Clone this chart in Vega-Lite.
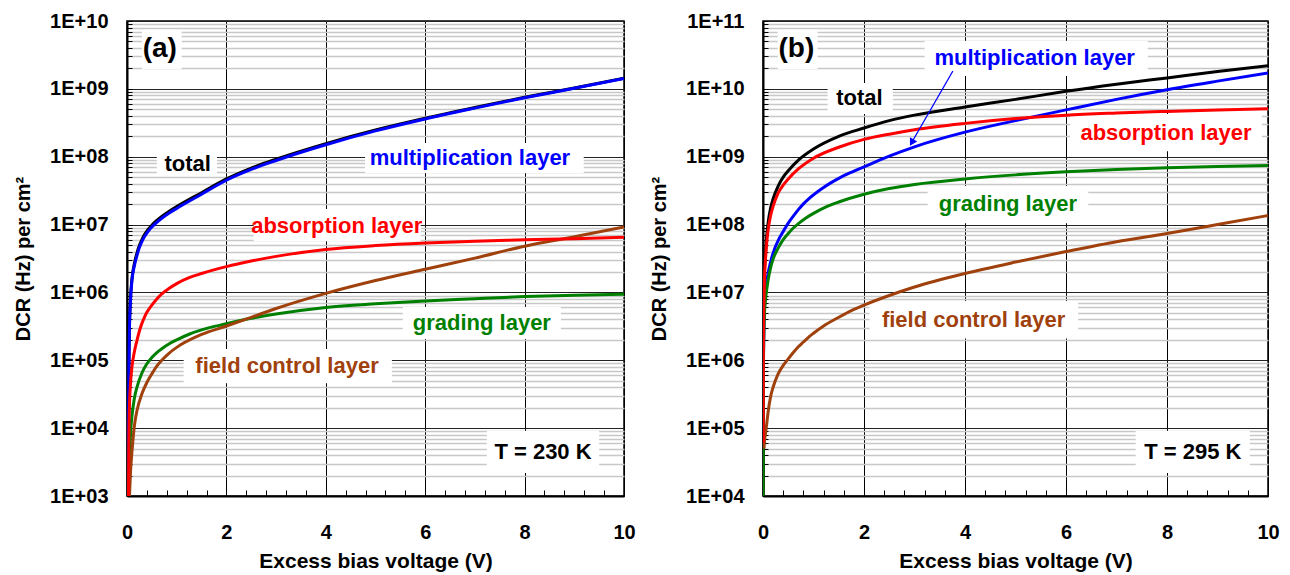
{
  "$schema": "https://vega.github.io/schema/vega-lite/v6.json",
  "padding": {"left": 12, "top": 10, "right": 5, "bottom": 0},
  "config": {
    "font": "Liberation Sans",
    "view": {"stroke": "#000000", "strokeWidth": 1.5},
    "background": "white"
  },
  "spacing": 12,
  "datasets": {
    "a": [
      {"series":"total","V":0.027,"DCR":1000},{"series":"total","V":0.03,"DCR":1.2e4},{"series":"total","V":0.04,"DCR":1.3e5},{"series":"total","V":0.05,"DCR":3.4e5},{"series":"total","V":0.07,"DCR":8.2e5},{"series":"total","V":0.1,"DCR":1.6e6},{"series":"total","V":0.15,"DCR":2.7e6},{"series":"total","V":0.2,"DCR":3.8e6},{"series":"total","V":0.25,"DCR":4.95e6},{"series":"total","V":0.3,"DCR":6.0e6},{"series":"total","V":0.35,"DCR":7.05e6},{"series":"total","V":0.4,"DCR":8.0e6},{"series":"total","V":0.45,"DCR":8.9e6},{"series":"total","V":0.5,"DCR":9.8e6},{"series":"total","V":0.6,"DCR":1.15e7},{"series":"total","V":0.7,"DCR":1.32e7},{"series":"total","V":0.85,"DCR":1.57e7},{"series":"total","V":1,"DCR":1.84e7},{"series":"total","V":1.5,"DCR":2.95e7},{"series":"total","V":2,"DCR":4.7e7},{"series":"total","V":2.5,"DCR":6.8e7},{"series":"total","V":3,"DCR":9.2e7},{"series":"total","V":4,"DCR":1.56e8},{"series":"total","V":5,"DCR":2.47e8},{"series":"total","V":6,"DCR":3.68e8},{"series":"total","V":7,"DCR":5.3e8},{"series":"total","V":8,"DCR":7.5e8},{"series":"total","V":9,"DCR":1.03e9},{"series":"total","V":10,"DCR":1.44e9},
      {"series":"mult","V":0.028,"DCR":1000},{"series":"mult","V":0.03,"DCR":1e4},{"series":"mult","V":0.04,"DCR":1e5},{"series":"mult","V":0.05,"DCR":3e5},{"series":"mult","V":0.07,"DCR":7.5e5},{"series":"mult","V":0.1,"DCR":1.5e6},{"series":"mult","V":0.15,"DCR":2.5e6},{"series":"mult","V":0.2,"DCR":3.5e6},{"series":"mult","V":0.25,"DCR":4.6e6},{"series":"mult","V":0.3,"DCR":5.6e6},{"series":"mult","V":0.35,"DCR":6.6e6},{"series":"mult","V":0.4,"DCR":7.5e6},{"series":"mult","V":0.45,"DCR":8.35e6},{"series":"mult","V":0.5,"DCR":9.2e6},{"series":"mult","V":0.6,"DCR":1.08e7},{"series":"mult","V":0.7,"DCR":1.24e7},{"series":"mult","V":0.85,"DCR":1.48e7},{"series":"mult","V":1,"DCR":1.73e7},{"series":"mult","V":1.5,"DCR":2.8e7},{"series":"mult","V":2,"DCR":4.5e7},{"series":"mult","V":2.5,"DCR":6.5e7},{"series":"mult","V":3,"DCR":8.8e7},{"series":"mult","V":4,"DCR":1.5e8},{"series":"mult","V":5,"DCR":2.4e8},{"series":"mult","V":6,"DCR":3.6e8},{"series":"mult","V":7,"DCR":5.2e8},{"series":"mult","V":8,"DCR":7.4e8},{"series":"mult","V":9,"DCR":1.02e9},{"series":"mult","V":10,"DCR":1.42e9},
      {"series":"grad","V":0.04,"DCR":1000},{"series":"grad","V":0.05,"DCR":3000},{"series":"grad","V":0.07,"DCR":8000},{"series":"grad","V":0.1,"DCR":1.5e4},{"series":"grad","V":0.15,"DCR":2.8e4},{"series":"grad","V":0.2,"DCR":4.0e4},{"series":"grad","V":0.3,"DCR":6.5e4},{"series":"grad","V":0.4,"DCR":8.9e4},{"series":"grad","V":0.5,"DCR":1.1e5},{"series":"grad","V":0.6,"DCR":1.3e5},{"series":"grad","V":0.7,"DCR":1.48e5},{"series":"grad","V":0.85,"DCR":1.75e5},{"series":"grad","V":1,"DCR":2.0e5},{"series":"grad","V":1.25,"DCR":2.42e5},{"series":"grad","V":1.5,"DCR":2.8e5},{"series":"grad","V":2,"DCR":3.45e5},{"series":"grad","V":2.5,"DCR":4.15e5},{"series":"grad","V":3,"DCR":4.8e5},{"series":"grad","V":4,"DCR":6.0e5},{"series":"grad","V":5,"DCR":6.8e5},{"series":"grad","V":6,"DCR":7.5e5},{"series":"grad","V":7,"DCR":8.1e5},{"series":"grad","V":8,"DCR":8.7e5},{"series":"grad","V":9,"DCR":9.1e5},{"series":"grad","V":10,"DCR":9.4e5},
      {"series":"field","V":0.05,"DCR":1000},{"series":"field","V":0.07,"DCR":2200},{"series":"field","V":0.1,"DCR":4500},{"series":"field","V":0.15,"DCR":1.1e4},{"series":"field","V":0.2,"DCR":1.8e4},{"series":"field","V":0.3,"DCR":3.2e4},{"series":"field","V":0.4,"DCR":4.7e4},{"series":"field","V":0.5,"DCR":6.3e4},{"series":"field","V":0.6,"DCR":8.2e4},{"series":"field","V":0.7,"DCR":1.0e5},{"series":"field","V":0.85,"DCR":1.28e5},{"series":"field","V":1,"DCR":1.55e5},{"series":"field","V":1.5,"DCR":2.4e5},{"series":"field","V":2,"DCR":3.2e5},{"series":"field","V":2.5,"DCR":4.3e5},{"series":"field","V":3,"DCR":5.8e5},{"series":"field","V":4,"DCR":9.7e5},{"series":"field","V":5,"DCR":1.5e6},{"series":"field","V":6,"DCR":2.2e6},{"series":"field","V":7,"DCR":3.2e6},{"series":"field","V":8,"DCR":4.8e6},{"series":"field","V":9,"DCR":6.6e6},{"series":"field","V":10,"DCR":9.2e6},
      {"series":"abs","V":0.03,"DCR":1000},{"series":"abs","V":0.035,"DCR":4600},{"series":"abs","V":0.04,"DCR":1e4},{"series":"abs","V":0.05,"DCR":2.2e4},{"series":"abs","V":0.07,"DCR":4.5e4},{"series":"abs","V":0.1,"DCR":8e4},{"series":"abs","V":0.15,"DCR":1.35e5},{"series":"abs","V":0.2,"DCR":1.95e5},{"series":"abs","V":0.25,"DCR":2.7e5},{"series":"abs","V":0.3,"DCR":3.5e5},{"series":"abs","V":0.35,"DCR":4.3e5},{"series":"abs","V":0.4,"DCR":5.1e5},{"series":"abs","V":0.45,"DCR":5.8e5},{"series":"abs","V":0.5,"DCR":6.5e5},{"series":"abs","V":0.6,"DCR":8.0e5},{"series":"abs","V":0.7,"DCR":9.5e5},{"series":"abs","V":0.85,"DCR":1.15e6},{"series":"abs","V":1,"DCR":1.35e6},{"series":"abs","V":1.25,"DCR":1.65e6},{"series":"abs","V":1.5,"DCR":1.9e6},{"series":"abs","V":2,"DCR":2.4e6},{"series":"abs","V":2.5,"DCR":2.9e6},{"series":"abs","V":3,"DCR":3.4e6},{"series":"abs","V":4,"DCR":4.3e6},{"series":"abs","V":5,"DCR":4.9e6},{"series":"abs","V":6,"DCR":5.35e6},{"series":"abs","V":7,"DCR":5.7e6},{"series":"abs","V":8,"DCR":5.95e6},{"series":"abs","V":9,"DCR":6.2e6},{"series":"abs","V":10,"DCR":6.5e6}
    ],
    "b": [
      {"series":"total","V":0.004,"DCR":1e4},{"series":"total","V":0.01,"DCR":5e6},{"series":"total","V":0.02,"DCR":1.4e7},{"series":"total","V":0.03,"DCR":2.2e7},{"series":"total","V":0.05,"DCR":3.8e7},{"series":"total","V":0.07,"DCR":6.3e7},{"series":"total","V":0.1,"DCR":1.05e8},{"series":"total","V":0.15,"DCR":1.75e8},{"series":"total","V":0.2,"DCR":2.4e8},{"series":"total","V":0.3,"DCR":3.7e8},{"series":"total","V":0.4,"DCR":5.0e8},{"series":"total","V":0.5,"DCR":6.2e8},{"series":"total","V":0.7,"DCR":8.9e8},{"series":"total","V":1,"DCR":1.3e9},{"series":"total","V":1.5,"DCR":2.0e9},{"series":"total","V":2,"DCR":2.65e9},{"series":"total","V":2.5,"DCR":3.4e9},{"series":"total","V":3,"DCR":4.1e9},{"series":"total","V":4,"DCR":5.4e9},{"series":"total","V":5,"DCR":7.0e9},{"series":"total","V":6,"DCR":9.2e9},{"series":"total","V":7,"DCR":1.17e10},{"series":"total","V":8,"DCR":1.45e10},{"series":"total","V":9,"DCR":1.8e10},{"series":"total","V":10,"DCR":2.2e10},
      {"series":"mult","V":0.008,"DCR":1e6},{"series":"mult","V":0.02,"DCR":3.5e6},{"series":"mult","V":0.03,"DCR":6e6},{"series":"mult","V":0.05,"DCR":1e7},{"series":"mult","V":0.07,"DCR":1.35e7},{"series":"mult","V":0.1,"DCR":1.9e7},{"series":"mult","V":0.15,"DCR":2.8e7},{"series":"mult","V":0.2,"DCR":3.8e7},{"series":"mult","V":0.3,"DCR":5.8e7},{"series":"mult","V":0.4,"DCR":7.9e7},{"series":"mult","V":0.5,"DCR":1.05e8},{"series":"mult","V":0.6,"DCR":1.33e8},{"series":"mult","V":0.7,"DCR":1.66e8},{"series":"mult","V":0.8,"DCR":2.02e8},{"series":"mult","V":0.9,"DCR":2.38e8},{"series":"mult","V":1,"DCR":2.74e8},{"series":"mult","V":1.1,"DCR":3.12e8},{"series":"mult","V":1.2,"DCR":3.52e8},{"series":"mult","V":1.35,"DCR":4.15e8},{"series":"mult","V":1.5,"DCR":4.8e8},{"series":"mult","V":1.75,"DCR":5.9e8},{"series":"mult","V":2,"DCR":7.1e8},{"series":"mult","V":2.5,"DCR":1.02e9},{"series":"mult","V":3,"DCR":1.4e9},{"series":"mult","V":4,"DCR":2.3e9},{"series":"mult","V":5,"DCR":3.4e9},{"series":"mult","V":6,"DCR":4.9e9},{"series":"mult","V":7,"DCR":7.0e9},{"series":"mult","V":8,"DCR":9.7e9},{"series":"mult","V":9,"DCR":1.3e10},{"series":"mult","V":10,"DCR":1.72e10},
      {"series":"grad","V":0.002,"DCR":1e4},{"series":"grad","V":0.005,"DCR":1e5},{"series":"grad","V":0.01,"DCR":1e6},{"series":"grad","V":0.02,"DCR":3e6},{"series":"grad","V":0.03,"DCR":5e6},{"series":"grad","V":0.05,"DCR":8e6},{"series":"grad","V":0.07,"DCR":1.05e7},{"series":"grad","V":0.1,"DCR":1.5e7},{"series":"grad","V":0.15,"DCR":2.3e7},{"series":"grad","V":0.2,"DCR":3.1e7},{"series":"grad","V":0.3,"DCR":4.5e7},{"series":"grad","V":0.4,"DCR":6e7},{"series":"grad","V":0.5,"DCR":7.4e7},{"series":"grad","V":0.6,"DCR":8.9e7},{"series":"grad","V":0.7,"DCR":1.03e8},{"series":"grad","V":0.85,"DCR":1.25e8},{"series":"grad","V":1,"DCR":1.46e8},{"series":"grad","V":1.25,"DCR":1.82e8},{"series":"grad","V":1.5,"DCR":2.15e8},{"series":"grad","V":2,"DCR":2.8e8},{"series":"grad","V":2.5,"DCR":3.4e8},{"series":"grad","V":3,"DCR":3.9e8},{"series":"grad","V":4,"DCR":4.7e8},{"series":"grad","V":5,"DCR":5.4e8},{"series":"grad","V":6,"DCR":6.0e8},{"series":"grad","V":7,"DCR":6.5e8},{"series":"grad","V":8,"DCR":6.9e8},{"series":"grad","V":9,"DCR":7.2e8},{"series":"grad","V":10,"DCR":7.4e8},
      {"series":"field","V":0.02,"DCR":5e4},{"series":"field","V":0.03,"DCR":6.5e4},{"series":"field","V":0.05,"DCR":8.5e4},{"series":"field","V":0.07,"DCR":1.1e5},{"series":"field","V":0.1,"DCR":1.7e5},{"series":"field","V":0.15,"DCR":2.9e5},{"series":"field","V":0.2,"DCR":4e5},{"series":"field","V":0.3,"DCR":6.3e5},{"series":"field","V":0.4,"DCR":8.4e5},{"series":"field","V":0.5,"DCR":1.05e6},{"series":"field","V":0.6,"DCR":1.3e6},{"series":"field","V":0.7,"DCR":1.58e6},{"series":"field","V":0.8,"DCR":1.86e6},{"series":"field","V":0.9,"DCR":2.18e6},{"series":"field","V":1,"DCR":2.5e6},{"series":"field","V":1.2,"DCR":3.2e6},{"series":"field","V":1.5,"DCR":4.3e6},{"series":"field","V":1.75,"DCR":5.4e6},{"series":"field","V":2,"DCR":6.5e6},{"series":"field","V":2.5,"DCR":9e6},{"series":"field","V":3,"DCR":1.2e7},{"series":"field","V":4,"DCR":1.9e7},{"series":"field","V":5,"DCR":2.8e7},{"series":"field","V":6,"DCR":4.0e7},{"series":"field","V":7,"DCR":5.6e7},{"series":"field","V":8,"DCR":7.4e7},{"series":"field","V":9,"DCR":1.0e8},{"series":"field","V":10,"DCR":1.36e8},
      {"series":"abs","V":0.005,"DCR":6e4},{"series":"abs","V":0.007,"DCR":1e6},{"series":"abs","V":0.01,"DCR":2.5e6},{"series":"abs","V":0.02,"DCR":8e6},{"series":"abs","V":0.03,"DCR":1.6e7},{"series":"abs","V":0.05,"DCR":3.1e7},{"series":"abs","V":0.07,"DCR":5e7},{"series":"abs","V":0.1,"DCR":8.2e7},{"series":"abs","V":0.15,"DCR":1.35e8},{"series":"abs","V":0.2,"DCR":1.85e8},{"series":"abs","V":0.3,"DCR":2.9e8},{"series":"abs","V":0.4,"DCR":3.8e8},{"series":"abs","V":0.5,"DCR":4.7e8},{"series":"abs","V":0.7,"DCR":6.6e8},{"series":"abs","V":1,"DCR":9.5e8},{"series":"abs","V":1.5,"DCR":1.38e9},{"series":"abs","V":2,"DCR":1.8e9},{"series":"abs","V":2.5,"DCR":2.15e9},{"series":"abs","V":3,"DCR":2.5e9},{"series":"abs","V":4,"DCR":3.1e9},{"series":"abs","V":5,"DCR":3.65e9},{"series":"abs","V":6,"DCR":4.1e9},{"series":"abs","V":7,"DCR":4.4e9},{"series":"abs","V":8,"DCR":4.65e9},{"series":"abs","V":9,"DCR":4.9e9},{"series":"abs","V":10,"DCR":5.1e9}
    ],
    "labels_a": [
      {"text":"(a)","kind":"tag","series":"total","V":0.66,"DCR":3.9e9,"x1":0.30,"x2":1.10,"y1":7.4e9,"y2":1.96e9},
      {"text":"total","kind":"label","series":"total","V":1.22,"DCR":7.8e7,"x1":0.60,"x2":1.81,"y1":1.135e8,"y2":5.2e7},
      {"text":"multiplication layer","kind":"label","series":"mult","V":6.90,"DCR":9.56e7,"x1":4.79,"x2":9.19,"y1":1.59e8,"y2":5.75e7},
      {"text":"absorption layer","kind":"label","series":"abs","V":4.22,"DCR":9.5e6,"x1":2.55,"x2":5.91,"y1":1.70e7,"y2":5.7e6},
      {"text":"grading layer","kind":"label","series":"grad","V":7.14,"DCR":3.55e5,"x1":5.55,"x2":8.73,"y1":6.1e5,"y2":2.06e5},
      {"text":"field control layer","kind":"label","series":"field","V":3.22,"DCR":8.2e4,"x1":1.14,"x2":5.33,"y1":1.47e5,"y2":4.6e4},
      {"text":"T = 230 K","kind":"label","series":"total","V":8.37,"DCR":4.45e3,"x1":7.24,"x2":9.5,"y1":9.1e3,"y2":2.18e3}
    ],
    "labels_b": [
      {"text":"(b)","kind":"tag","series":"total","V":0.66,"DCR":3.9e10,"x1":0.29,"x2":1.08,"y1":7.4e10,"y2":1.96e10},
      {"text":"total","kind":"label","series":"total","V":1.91,"DCR":7.3e9,"x1":1.28,"x2":2.57,"y1":1.22e10,"y2":4.26e9},
      {"text":"multiplication layer","kind":"label","series":"mult","V":5.38,"DCR":2.85e10,"x1":3.2,"x2":7.62,"y1":5.07e10,"y2":1.55e10},
      {"text":"absorption layer","kind":"label","series":"abs","V":7.98,"DCR":2.24e9,"x1":6.08,"x2":9.88,"y1":4.26e9,"y2":1.2e9},
      {"text":"grading layer","kind":"label","series":"grad","V":4.85,"DCR":2.0e8,"x1":3.26,"x2":6.44,"y1":3.7e8,"y2":1.05e8},
      {"text":"field control layer","kind":"label","series":"field","V":4.17,"DCR":3.93e6,"x1":2.11,"x2":6.24,"y1":7.5e6,"y2":2.1e6},
      {"text":"T = 295 K","kind":"label","series":"total","V":8.51,"DCR":4.45e4,"x1":7.38,"x2":9.64,"y1":9.1e4,"y2":2.18e4}
    ],
    "arrow_b": [
      {"V":3.76,"DCR":1.83e10,"V2":2.93,"DCR2":1.55e9}
    ],
    "head_b": [
      {"V":2.946,"DCR":1.62e9}
    ]
  },
  "hconcat": [
    {
      "width": 497,
      "height": 475,
      "layer": [
        {
          "data": {"name": "labels_a"},
          "mark": {"type": "rect", "color": "white"},
          "encoding": {
            "x": {"field": "x1", "type": "quantitative"},
            "x2": {"field": "x2"},
            "y": {"field": "y1", "type": "quantitative"},
            "y2": {"field": "y2"}
          }
        },
        {
          "data": {"name": "a"},
          "mark": {"type": "line", "strokeWidth": 3, "clip": true, "interpolate": "monotone"},
          "encoding": {
            "x": {
              "field": "V", "type": "quantitative",
              "scale": {"domain": [0, 10], "nice": false, "zero": false},
              "axis": {
                "title": "Excess bias voltage (V)",
                "titleFont": "Liberation Sans", "titleFontSize": 21, "titleFontWeight": "bold", "titleColor": "#000000", "titlePadding": 8,
                "values": [0,0.4,0.8,1.2,1.6,2,2.4,2.8,3.2,3.6,4,4.4,4.8,5.2,5.6,6,6.4,6.8,7.2,7.6,8,8.4,8.8,9.2,9.6,10],
                "tickCount": 200,
                "labelExpr": "datum.value % 2 === 0 ? '' + datum.value : ''",
                "labelFont": "Liberation Sans", "labelFontSize": 20, "labelFontWeight": "bold", "labelColor": "#000000",
                "labelPadding": 32, "labelFlush": false, "labelOverlap": false, "labelBound": false,
                "tickSize": -6, "tickColor": "#000000", "tickWidth": 1,
                "domainColor": "#000000", "domainWidth": 2,
                "grid": true, "gridColor": "#000000", "gridWidth": 1,
                "gridOpacity": {"condition": {"test": "datum.value % 2 === 0", "value": 1}, "value": 0}
              }
            },
            "y": {
              "field": "DCR", "type": "quantitative",
              "scale": {"type": "log", "domain": [1000, 1e10], "nice": false},
              "axis": {
                "title": "DCR (Hz) per cm²",
                "titleFont": "Liberation Sans", "titleFontSize": 20, "titleFontWeight": "bold", "titleColor": "#000000", "titlePadding": 16,
                "values": [1e3,2e3,3e3,4e3,5e3,6e3,7e3,8e3,9e3,1e4,2e4,3e4,4e4,5e4,6e4,7e4,8e4,9e4,1e5,2e5,3e5,4e5,5e5,6e5,7e5,8e5,9e5,1e6,2e6,3e6,4e6,5e6,6e6,7e6,8e6,9e6,1e7,2e7,3e7,4e7,5e7,6e7,7e7,8e7,9e7,1e8,2e8,3e8,4e8,5e8,6e8,7e8,8e8,9e8,1e9,2e9,3e9,4e9,5e9,6e9,7e9,8e9,9e9,1e10],
                "tickCount": 200,
                "labelExpr": "abs(log(datum.value)/LN10 - round(log(datum.value)/LN10)) < 0.001 ? '1E+' + (round(log(datum.value)/LN10) < 10 ? '0' : '') + round(log(datum.value)/LN10) : ''",
                "labelFont": "Liberation Sans", "labelFontSize": 20, "labelFontWeight": "bold", "labelColor": "#000000",
                "labelPadding": 24, "labelFlush": false, "labelOverlap": false, "labelBound": false,
                "tickSize": -5, "tickColor": "#000000", "tickWidth": 1,
                "domainColor": "#000000", "domainWidth": 2,
                "grid": true,
                "gridColor": {"condition": {"test": "abs(log(datum.value)/LN10 - round(log(datum.value)/LN10)) < 0.001", "value": "#222222"}, "value": "#c8c8c8"},
                "gridWidth": {"condition": {"test": "abs(log(datum.value)/LN10 - round(log(datum.value)/LN10)) < 0.001", "value": 1}, "value": 1.5}
              }
            },
            "color": {
              "field": "series", "type": "nominal",
              "scale": {"domain": ["total","mult","abs","grad","field"], "range": ["#000000","#0000ff","#ff0000","#008000","#a0410d"]},
              "legend": null
            }
          }
        },
        {
          "data": {"name": "labels_a"},
          "mark": {"type": "text", "font": "Liberation Sans", "fontWeight": "bold", "align": "center", "baseline": "middle"},
          "encoding": {
            "x": {"field": "V", "type": "quantitative"},
            "y": {"field": "DCR", "type": "quantitative"},
            "text": {"field": "text"},
            "color": {"field": "series", "type": "nominal", "legend": null},
            "size": {"condition": {"test": "datum.kind === 'tag'", "value": 28}, "value": 22}
          }
        }
      ]
    },
    {
      "width": 505,
      "height": 475,
      "layer": [
        {
          "data": {"name": "labels_b"},
          "mark": {"type": "rect", "color": "white"},
          "encoding": {
            "x": {"field": "x1", "type": "quantitative"},
            "x2": {"field": "x2"},
            "y": {"field": "y1", "type": "quantitative"},
            "y2": {"field": "y2"}
          }
        },
        {
          "data": {"name": "b"},
          "mark": {"type": "line", "strokeWidth": 3, "clip": true, "interpolate": "monotone"},
          "encoding": {
            "x": {
              "field": "V", "type": "quantitative",
              "scale": {"domain": [0, 10], "nice": false, "zero": false},
              "axis": {
                "title": "Excess bias voltage (V)",
                "titleFont": "Liberation Sans", "titleFontSize": 21, "titleFontWeight": "bold", "titleColor": "#000000", "titlePadding": 8,
                "values": [0,0.4,0.8,1.2,1.6,2,2.4,2.8,3.2,3.6,4,4.4,4.8,5.2,5.6,6,6.4,6.8,7.2,7.6,8,8.4,8.8,9.2,9.6,10],
                "tickCount": 200,
                "labelExpr": "datum.value % 2 === 0 ? '' + datum.value : ''",
                "labelFont": "Liberation Sans", "labelFontSize": 20, "labelFontWeight": "bold", "labelColor": "#000000",
                "labelPadding": 32, "labelFlush": false, "labelOverlap": false, "labelBound": false,
                "tickSize": -6, "tickColor": "#000000", "tickWidth": 1,
                "domainColor": "#000000", "domainWidth": 2,
                "grid": true, "gridColor": "#000000", "gridWidth": 1,
                "gridOpacity": {"condition": {"test": "datum.value % 2 === 0", "value": 1}, "value": 0}
              }
            },
            "y": {
              "field": "DCR", "type": "quantitative",
              "scale": {"type": "log", "domain": [1e4, 1e11], "nice": false},
              "axis": {
                "title": "DCR (Hz) per cm²",
                "titleFont": "Liberation Sans", "titleFontSize": 20, "titleFontWeight": "bold", "titleColor": "#000000", "titlePadding": 16,
                "values": [1e4,2e4,3e4,4e4,5e4,6e4,7e4,8e4,9e4,1e5,2e5,3e5,4e5,5e5,6e5,7e5,8e5,9e5,1e6,2e6,3e6,4e6,5e6,6e6,7e6,8e6,9e6,1e7,2e7,3e7,4e7,5e7,6e7,7e7,8e7,9e7,1e8,2e8,3e8,4e8,5e8,6e8,7e8,8e8,9e8,1e9,2e9,3e9,4e9,5e9,6e9,7e9,8e9,9e9,1e10,2e10,3e10,4e10,5e10,6e10,7e10,8e10,9e10,1e11],
                "tickCount": 200,
                "labelExpr": "abs(log(datum.value)/LN10 - round(log(datum.value)/LN10)) < 0.001 ? '1E+' + (round(log(datum.value)/LN10) < 10 ? '0' : '') + round(log(datum.value)/LN10) : ''",
                "labelFont": "Liberation Sans", "labelFontSize": 20, "labelFontWeight": "bold", "labelColor": "#000000",
                "labelPadding": 24, "labelFlush": false, "labelOverlap": false, "labelBound": false,
                "tickSize": -5, "tickColor": "#000000", "tickWidth": 1,
                "domainColor": "#000000", "domainWidth": 2,
                "grid": true,
                "gridColor": {"condition": {"test": "abs(log(datum.value)/LN10 - round(log(datum.value)/LN10)) < 0.001", "value": "#222222"}, "value": "#c8c8c8"},
                "gridWidth": {"condition": {"test": "abs(log(datum.value)/LN10 - round(log(datum.value)/LN10)) < 0.001", "value": 1}, "value": 1.5}
              }
            },
            "color": {
              "field": "series", "type": "nominal",
              "scale": {"domain": ["total","mult","abs","grad","field"], "range": ["#000000","#0000ff","#ff0000","#008000","#a0410d"]},
              "legend": null
            }
          }
        },
        {
          "data": {"name": "arrow_b"},
          "mark": {"type": "rule", "color": "#0000ff", "strokeWidth": 1.3},
          "encoding": {
            "x": {"field": "V", "type": "quantitative"},
            "y": {"field": "DCR", "type": "quantitative"},
            "x2": {"field": "V2"},
            "y2": {"field": "DCR2"}
          }
        },
        {
          "data": {"name": "head_b"},
          "mark": {"type": "point", "shape": "triangle-up", "filled": true, "color": "#0000ff", "opacity": 1, "size": 70, "angle": 210},
          "encoding": {
            "x": {"field": "V", "type": "quantitative"},
            "y": {"field": "DCR", "type": "quantitative"}
          }
        },
        {
          "data": {"name": "labels_b"},
          "mark": {"type": "text", "font": "Liberation Sans", "fontWeight": "bold", "align": "center", "baseline": "middle"},
          "encoding": {
            "x": {"field": "V", "type": "quantitative"},
            "y": {"field": "DCR", "type": "quantitative"},
            "text": {"field": "text"},
            "color": {"field": "series", "type": "nominal", "legend": null},
            "size": {"condition": {"test": "datum.kind === 'tag'", "value": 28}, "value": 22}
          }
        }
      ]
    }
  ]
}
